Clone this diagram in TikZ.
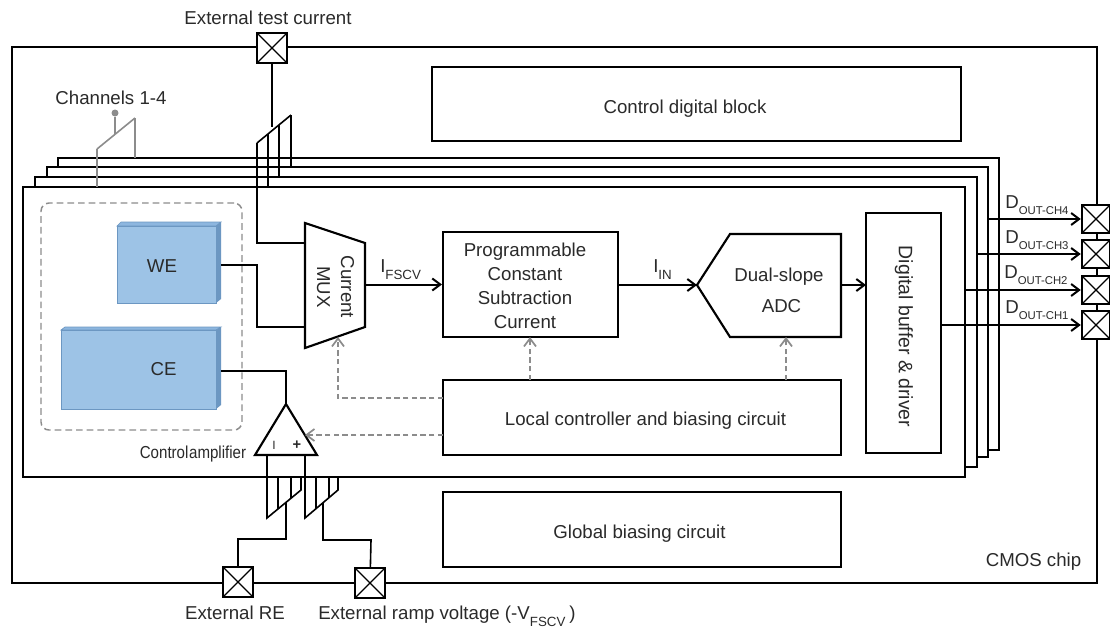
\documentclass[tikz,border=0pt]{standalone}
\usepackage{fontspec}
\setmainfont{Liberation Sans}
\usetikzlibrary{arrows.meta}
\def\px{0.75pt}
\definecolor{txtc}{HTML}{2A2A2A}
\definecolor{ctrlc}{HTML}{8C8C8C}
\definecolor{bluef}{HTML}{9DC3E6}
\definecolor{bluet}{HTML}{8DB6DF}
\definecolor{blues}{HTML}{6C97C2}
\newcommand{\subtxt}[1]{\raisebox{-5.2pt}{\fontsize{8.5}{10}\selectfont #1}}
\newcommand{\subbig}[1]{\raisebox{-5.7pt}{\fontsize{10}{10}\selectfont #1}}
\tikzset{
  block/.style={draw, fill=white, line width=1.6pt, inner sep=0pt},
  layer/.style={draw, fill=white, line width=1.5pt, inner sep=0pt},
  wire/.style={line width=1.2pt},
  sig/.style={->, line width=1.5pt},
  ctrl/.style={->, ctrlc, line width=1.3pt, dash pattern=on 4pt off 2.5pt},
  txt/.style={inner sep=0pt, text=txtc, align=center},
  pad/.style={draw, fill=white, line width=1.8pt, minimum size=28*\px, inner sep=0pt,
    path picture={\draw[line width=1pt] (path picture bounding box.north west) -- (path picture bounding box.south east)
      (path picture bounding box.north east) -- (path picture bounding box.south west);}},
  face/.style={fill=bluef, draw=blues, line width=0.5pt}
}
\begin{document}
\begin{tikzpicture}[x=0.75pt, y=-0.75pt, >={Straight Barb[length=6pt,width=9pt]}, font=\fontsize{14}{18}\selectfont]
  \useasboundingbox[fill=white] (0,0) rectangle (1110,633);
  \node (chip) at (554.5,315) [layer, minimum width=1085*\px, minimum height=536*\px] {};
  % channel layers, back to front
  \node (CH4) at (528.5,304) [layer, minimum width=941*\px, minimum height=292*\px] {};
  \node (CH3) at (517.5,312) [layer, minimum width=941*\px, minimum height=290*\px] {};
  \node (CH2) at (506,322)   [layer, minimum width=942*\px, minimum height=290*\px] {};
  \node (CH1) at (494,332)   [layer, minimum width=942*\px, minimum height=290*\px] {};

  \node (digital) at (696.5,104) [block, minimum width=529*\px, minimum height=74*\px] {};
  \node (global)  at (642,529.5) [block, minimum width=398*\px, minimum height=75*\px] {};
  \node (local)   at (642,417.5) [block, minimum width=398*\px, minimum height=75*\px] {};
  \node (PCSC)    at (530.5,284.5) [block, minimum width=175*\px, minimum height=105*\px] {};
  \node (buffer)  at (903.5,333) [block, minimum width=75*\px, minimum height=240*\px] {};
  \node (digitallbl) at (685,113)  [txt, anchor=base] {Control digital block};
  \node (globallbl)  at (639.5,538) [txt, anchor=base] {Global biasing circuit};
  \node (locallbl)   at (645.5,425) [txt, anchor=base] {Local controller and biasing circuit};
  \node (PCSClbl)    at (525,286) [txt] {Programmable\\Constant\\Subtraction\\Current};
  \node (bufferlbl)  at (904,336.5) [txt, rotate=-90, font=\fontsize{14.6}{18}\selectfont] {Digital buffer \& driver};

  % electrodes
  \node (dashbox) at (141.5,316.5) [draw=ctrlc, line width=1.1pt, dash pattern=on 5pt off 3pt, rounded corners=6pt, minimum width=201*\px, minimum height=227*\px, inner sep=0pt] {};
  \fill[bluet, draw=blues, line width=0.5pt] (117,226) -- (121,222) -- (221,222) -- (216,226) -- cycle;
  \fill[blues] (216,226) -- (221,222) -- (221,299) -- (216,303) -- cycle;
  \fill[bluet, draw=blues, line width=0.5pt] (61,330) -- (65,327) -- (221,327) -- (216,330) -- cycle;
  \fill[blues] (216,330) -- (221,327) -- (221,405) -- (216,409) -- cycle;
  \node (WE) at (166.5,264.5) [face, minimum width=99*\px, minimum height=77*\px, inner sep=0pt] {};
  \node (CE) at (138.5,369.5) [face, minimum width=155*\px, minimum height=79*\px, inner sep=0pt] {};
  \node (WEtxt) at (162,272) [txt, anchor=base] {WE};
  \node (CEtxt) at (163.5,375) [txt, anchor=base] {CE};

  % mux, adc and amplifier outlines
  \coordinate (M1) at (305,223);
  \coordinate (M2) at (365,243);
  \coordinate (M3) at (365,327);
  \coordinate (M4) at (305,348);
  \draw[line width=1.6pt, fill=white] (M1) -- (M2) -- (M3) -- (M4) -- cycle;
  \node (MUX) at (335.5,287) [txt, rotate=-90] {Current\\MUX};

  \coordinate (A1) at (697,285);
  \coordinate (A2) at (730,234);
  \coordinate (A3) at (841,234);
  \coordinate (A4) at (841,337);
  \coordinate (A5) at (730,337);
  \draw[line width=1.6pt, fill=white] (A1) -- (A2) -- (A3) -- (A4) -- (A5) -- cycle;
  \node (ADC1) at (779,281) [txt, anchor=base] {Dual-slope};
  \node (ADC2) at (781.5,312) [txt, anchor=base] {ADC};

  \coordinate (T1) at (286,404);
  \coordinate (T2) at (317,455);
  \coordinate (T3) at (255,455);
  \draw[line width=1.6pt, fill=white] (T1) -- (T2) -- (T3) -- cycle;
  \node (minus) at (274,445) [txt, font=\fontsize{9}{10}\selectfont] {I};
  \node (plus)  at (297,445) [txt, font=\fontsize{11}{10}\bfseries] {+};
  \node (amplbl) at (193,458) [txt, anchor=base, font=\fontsize{13}{18}\selectfont] {\scalebox{0.87}[1]{Control\hspace{-3pt} amplifier}};

  % pads
  \node (padT) at (272,48)  [pad, minimum size=30*\px] {};
  \node (pad4) at (1096,219) [pad] {};
  \node (pad3) at (1096,254) [pad] {};
  \node (pad2) at (1096,290) [pad] {};
  \node (pad1) at (1096,325) [pad] {};
  \node (padR) at (238,582) [pad, minimum size=30*\px] {};
  \node (padV) at (370,583) [pad, minimum size=30*\px] {};

  % test current input
  \coordinate (S1) at (257,143);
  \coordinate (S2) at (291,115);
  \coordinate (S3) at (272,127);
  \coordinate (S4) at (268,134);
  \coordinate (S5) at (279,125);
  \draw[wire] (padT) -- (S3);
  \draw[wire] (S1) -- (S2);
  \draw[wire] (S1) |- (305,243);
  \draw[wire] (S4) -- (268,187);
  \draw[wire] (S5) -- (279,177);
  \draw[wire] (S2) -- (291,167);

  % channels fork
  \coordinate (F1) at (97,149);
  \coordinate (F2) at (135,118);
  \coordinate (F3) at (115,134);
  \node (Fdot) at (115,113) [circle, fill=ctrlc, inner sep=0pt, minimum size=7*\px] {};
  \draw[ctrlc, wire] (Fdot) -- (F3);
  \draw[ctrlc, wire] (F1) -- (F2);
  \draw[ctrlc, wire] (F1) -- (97,187);
  \draw[ctrlc, wire] (F2) -- (135,158);
  \node (chanlbl) at (111,104) [txt, anchor=base] {Channels 1-4};

  % electrodes to mux and amplifier
  \draw[wire] (221,265) -| (257,327) -- (305,327);
  \draw[wire] (221,371) -| (T1);

  % amplifier inputs
  \coordinate (B1) at (267,518);
  \coordinate (B2) at (301,490);
  \coordinate (B3) at (305,518);
  \coordinate (B4) at (338,490);
  \coordinate (B5) at (286,502);
  \coordinate (B6) at (323,503);
  \draw[wire] (267,455) -- (B1) -- (B2) -- (301,477);
  \draw[wire] (278,509) -- (278,477);
  \draw[wire] (291,498) -- (291,477);
  \draw[wire] (305,455) -- (B3) -- (B4) -- (338,477);
  \draw[wire] (316,509) -- (316,477);
  \draw[wire] (329,498) -- (329,477);
  \draw[wire] (B5) |- (238,539) -- (padR);
  \draw[wire] (B6) |- (371,540) -- (padV);

  % signal path
  \draw[sig] (M2 |- PCSC) -- (PCSC);
  \coordinate (I1) at (618,285);
  \draw[sig] (I1) -- (A1);
  \coordinate (I2) at (841,285);
  \coordinate (I3) at (866,285);
  \draw[sig] (I2) -- (I3);
  \node (IFSCV) at (380,272) [txt, anchor=base west] {I\subbig{FSCV}};
  \node (IIN)   at (653,272) [txt, anchor=base west] {I\subbig{IN}};

  % outputs
  \coordinate (O4) at (988,219);
  \coordinate (O3) at (977,254);
  \coordinate (O2) at (965,290);
  \coordinate (O1) at (941,325);
  \draw[sig] (O4) -- (pad4);
  \draw[sig] (O3) -- (pad3);
  \draw[sig] (O2) -- (pad2);
  \draw[sig] (O1) -- (pad1);
  \node (D4) at (1005,208) [txt, anchor=base west] {D\subtxt{OUT-CH4}};
  \node (D3) at (1005,243) [txt, anchor=base west] {D\subtxt{OUT-CH3}};
  \node (D2) at (1004,278) [txt, anchor=base west] {D\subtxt{OUT-CH2}};
  \node (D1) at (1005,313) [txt, anchor=base west] {D\subtxt{OUT-CH1}};

  % control lines
  \coordinate (C1) at (338,337);
  \coordinate (C2) at (530,337);
  \coordinate (C3) at (786,337);
  \coordinate (C4) at (305,435);
  \draw[ctrl] (443,398) -| (C1);
  \draw[ctrl] (530,380) -- (C2);
  \draw[ctrl] (786,380) -- (C3);
  \draw[ctrl] (443,435) -- (C4);

  % labels
  \node (testlbl) at (268,24)   [txt, anchor=base] {External test current};
  \node (relbl)   at (235,619)  [txt, anchor=base] {External RE};
  \node (ramplbl) at (318,619)  [txt, anchor=base west] {External ramp voltage (-V\subbig{FSCV}\hspace{3pt})};
  \node (cmoslbl) at (1033.5,566) [txt, anchor=base] {CMOS chip};
\end{tikzpicture}
\end{document}
